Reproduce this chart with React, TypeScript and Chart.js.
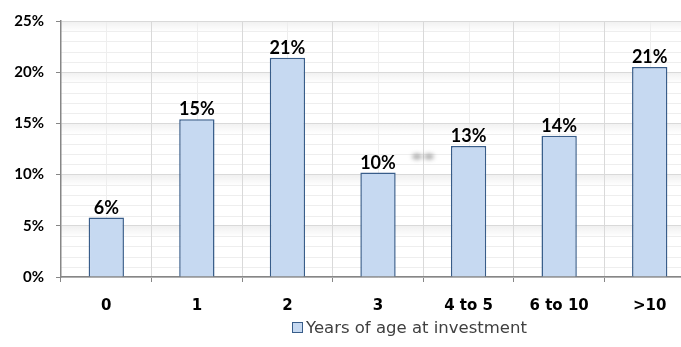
import { useEffect, useRef } from 'react';
import { Chart, registerables } from 'chart.js';

Chart.register(...registerables);

// Share of investments by years of age at investment
const categories = ['0', '1', '2', '3', '4 to 5', '6 to 10', '>10'];
const shares = [5.8, 15.4, 21.4, 10.2, 12.8, 13.8, 20.5];
const seriesName = 'Years of age at investment';
const yMax = 25;
const yStep = 5;

const BAR_FILL = '#c6d9f1';
const BAR_EDGE = '#385d8a';
const MAJOR_GRID = '#d9d9d9';
const MINOR_GRID = '#eeeeee';
const AXIS = '#868686';

const CANVAS_W = 700;
const CANVAS_H = 347;

const fmt = (v: number) => `${Math.round(v)}%`;

// White background, minor gridlines and the soft bands under major lines
const backdrop = {
  id: 'backdrop',
  beforeDraw(chart: any) {
    const { ctx, chartArea: a, scales } = chart;
    const x = scales.x;
    const y = scales.y;
    ctx.save();
    ctx.fillStyle = '#ffffff';
    ctx.fillRect(0, 0, chart.width, chart.height);

    // soft band below each major horizontal line
    for (let v = yStep; v <= yMax; v += yStep) {
      const py = Math.round(y.getPixelForValue(v));
      const g = ctx.createLinearGradient(0, py, 0, py + 11);
      g.addColorStop(0, 'rgba(0,0,0,0.06)');
      g.addColorStop(1, 'rgba(0,0,0,0)');
      ctx.fillStyle = g;
      ctx.fillRect(a.left, py, a.right - a.left, 11);
    }

    ctx.strokeStyle = MINOR_GRID;
    ctx.lineWidth = 1;
    ctx.beginPath();
    for (let v = 1; v < yMax; v++) {
      if (v % yStep === 0) continue;
      const py = Math.round(y.getPixelForValue(v)) + 0.5;
      ctx.moveTo(a.left, py);
      ctx.lineTo(a.right, py);
    }
    categories.forEach((_, i) => {
      const px = Math.round(x.getPixelForValue(i)) + 0.5;
      ctx.moveTo(px, a.top);
      ctx.lineTo(px, a.bottom);
    });
    ctx.stroke();
    ctx.restore();
  },
};

// Percent labels above bars
const valueLabels = {
  id: 'valueLabels',
  afterDatasetsDraw(chart: any) {
    const { ctx } = chart;
    const meta = chart.getDatasetMeta(0);
    ctx.save();
    ctx.font = 'bold 18px Lato';
    ctx.fillStyle = '#000000';
    ctx.textAlign = 'center';
    ctx.textBaseline = 'alphabetic';
    meta.data.forEach((bar: any, i: number) => {
      ctx.fillText(fmt(shares[i]), bar.x, bar.y - 4);
    });

    // faint smeared smudge to the right of the "3" label
    const b = meta.data[3];
    ctx.filter = 'blur(2px)';
    ctx.fillStyle = 'rgba(110,110,110,0.55)';
    ctx.beginPath();
    ctx.ellipse(b.x + 39, b.y - 16, 5, 3, 0, 0, Math.PI * 2);
    ctx.ellipse(b.x + 51, b.y - 16, 5, 3, 0, 0, Math.PI * 2);
    ctx.fill();
    ctx.restore();
  },
};

// Legend drawn under the axis
const legendBox = {
  id: 'legendBox',
  afterDraw(chart: any) {
    const { ctx } = chart;
    const bx = 292;
    const by = 322;
    ctx.save();
    ctx.fillStyle = BAR_FILL;
    ctx.fillRect(bx, by, 10, 10);
    ctx.strokeStyle = BAR_EDGE;
    ctx.lineWidth = 1;
    ctx.strokeRect(bx + 0.5, by + 0.5, 10, 10);
    ctx.font = '16.5px "DejaVu Sans"';
    ctx.fillStyle = '#404040';
    ctx.textAlign = 'left';
    ctx.textBaseline = 'alphabetic';
    ctx.fillText(seriesName, bx + 14, by + 11);
    ctx.restore();
  },
};

export default function App() {
  const ref = useRef<HTMLCanvasElement>(null);

  useEffect(() => {
    const canvas = ref.current;
    if (!canvas) return;
    const chart = new Chart(canvas, {
      type: 'bar',
      data: {
        labels: categories,
        datasets: [
          {
            label: seriesName,
            data: shares,
            backgroundColor: BAR_FILL,
            borderColor: BAR_EDGE,
            borderWidth: 1.5,
            barPercentage: 0.39,
            categoryPercentage: 1,
          },
        ],
      },
      options: {
        responsive: false,
        animation: false,
        devicePixelRatio: 1,
        layout: { padding: { top: 20, right: 5, bottom: 0, left: 0 } },
        plugins: {
          legend: { display: false },
          tooltip: { enabled: false },
        },
        scales: {
          x: {
            grid: {
              offset: true,
              color: MAJOR_GRID,
              tickColor: AXIS,
              tickLength: 5,
            },
            border: { color: AXIS, width: 1.5 },
            ticks: {
              padding: 15,
              color: '#000000',
              maxRotation: 0,
              autoSkip: false,
              font: { family: 'DejaVu Sans', weight: 'bold', size: 15 },
            },
            afterFit: (s: any) => {
              s.height = 70;
            },
          },
          y: {
            min: 0,
            max: yMax,
            grid: {
              color: MAJOR_GRID,
              tickColor: AXIS,
              tickLength: 5,
            },
            border: { color: AXIS, width: 1.5 },
            ticks: {
              stepSize: yStep,
              padding: 12,
              color: '#000000',
              font: { family: 'Lato', weight: 'bold', size: 15 },
              callback: (v: any) => `${v}%`,
            },
            afterFit: (s: any) => {
              s.width = 61;
            },
          },
        },
      } as any,
      plugins: [backdrop, valueLabels, legendBox],
    });
    return () => chart.destroy();
  }, []);

  return (
    <div
      style={{
        position: 'fixed',
        left: 0,
        top: 0,
        width: 681,
        height: 347,
        overflow: 'hidden',
        background: '#ffffff',
      }}
    >
      <canvas ref={ref} width={CANVAS_W} height={CANVAS_H} style={{ display: 'block' }} />
    </div>
  );
}
